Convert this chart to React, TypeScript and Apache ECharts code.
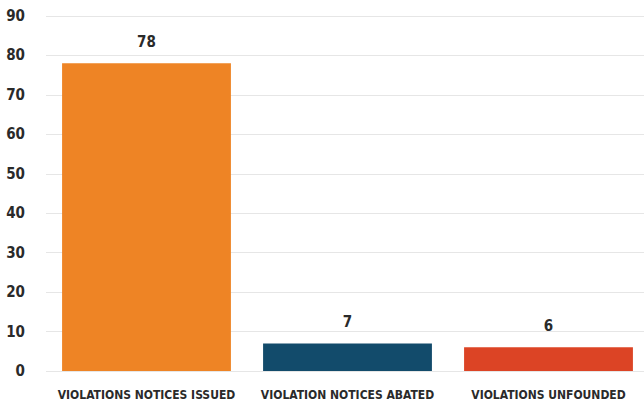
import React, { useEffect, useRef } from "react";
import * as echarts from "echarts";

const categories = ["VIOLATIONS NOTICES ISSUED", "VIOLATION NOTICES ABATED", "VIOLATIONS UNFOUNDED"];
const values = [78, 7, 6];
const barColors = ["#EE8425", "#124B6B", "#DC4425"];
const yMin = 0;
const yMax = 90;
const yInterval = 10;

const FONT = "'DejaVu Sans Condensed', 'Liberation Sans Narrow', sans-serif";

export default function App() {
  const ref = useRef<HTMLDivElement>(null);
  useEffect(() => {
    document.body.style.margin = "0";
    const chart = echarts.init(ref.current!, null, { renderer: "svg" });
    chart.setOption({
      animation: false,
      backgroundColor: "#ffffff",
      grid: { left: 46, right: 1, top: 16, bottom: 40 },
      xAxis: {
        type: "category",
        data: categories,
        axisLine: { show: false },
        axisTick: { show: false },
        axisLabel: {
          color: "#2a2a2a",
          fontFamily: FONT,
          fontWeight: "bold",
          fontSize: 12,
          margin: 18,
          interval: 0,
        },
      },
      yAxis: {
        type: "value",
        min: yMin,
        max: yMax,
        interval: yInterval,
        axisLine: { show: false },
        axisTick: { show: false },
        axisLabel: {
          color: "#2a2a2a",
          fontFamily: FONT,
          fontWeight: "bold",
          fontSize: 15,
          margin: 21,
        },
        splitLine: { lineStyle: { color: "#e6e6e6", width: 1 } },
      },
      series: [
        {
          type: "bar",
          data: values.map((v, i) => ({ value: v, itemStyle: { color: barColors[i] } })),
          barCategoryGap: "16%",
          label: {
            show: true,
            position: "top",
            distance: 14,
            color: "#2a2a2a",
            fontFamily: FONT,
            fontWeight: "bold",
            fontSize: 15,
          },
        },
      ],
    });
    return () => chart.dispose();
  }, []);
  return (
    <div style={{ width: 644, height: 411, overflow: "hidden", background: "#ffffff" }}>
      <div ref={ref} style={{ width: 650, height: 411 }} />
    </div>
  );
}
